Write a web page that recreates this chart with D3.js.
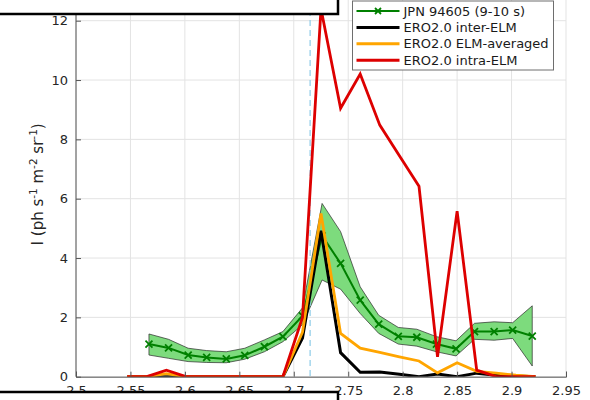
<!DOCTYPE html>
<html>
<head>
<meta charset="utf-8">
<script src="https://cdn.jsdelivr.net/npm/d3@7"></script>
<style>
  body { margin: 0; background: #fff; }
  svg { display: block; font-family: "DejaVu Sans", sans-serif; }
</style>
</head>
<body>
<svg id="chart"></svg>
<script>
// ERO2.0 simulation grid (same for all three model curves)
const xSim = [2.547, 2.565, 2.583, 2.601, 2.618, 2.636, 2.654, 2.672, 2.690, 2.708, 2.725,
              2.743, 2.761, 2.779, 2.797, 2.815, 2.832, 2.850, 2.868, 2.886, 2.904, 2.922];
const interELM = [0, 0, 0, 0, 0, 0, 0, 0, 0, 1.3, 4.92, 0.81, 0.15, 0.16, 0.08, 0, 0.09, 0, 0.12, 0.05, 0.02, 0];
const elmAveraged = [0, 0, 0.1, 0, 0, 0, 0, 0, 0, 1.5, 5.5, 1.46, 0.96, 0.82, 0.67, 0.53, 0.13, 0.47, 0.18, 0.12, 0.05, 0];
const intraELM = [0, 0, 0.22, 0, 0, 0, 0, 0, 0, 2.0, 12.4, 9.05, 10.2, 8.48, 7.45, 6.42, 0.67, 5.58, 0.22, 0, 0, 0];

// JPN 94605 measurement (9-10 s) with its uncertainty band
const xExp = [2.567, 2.585, 2.603, 2.620, 2.638, 2.655, 2.673, 2.690, 2.708, 2.726, 2.743,
              2.761, 2.778, 2.796, 2.813, 2.831, 2.849, 2.866, 2.884, 2.901, 2.919];
const jpn = [1.10, 0.97, 0.73, 0.65, 0.60, 0.72, 1.01, 1.35, 2.05, 4.75, 3.82, 2.58, 1.77, 1.36, 1.33, 1.10, 0.94, 1.52, 1.52, 1.57, 1.37];
const jpnLow = [0.73, 0.62, 0.51, 0.48, 0.47, 0.59, 0.84, 1.18, 1.75, 3.26, 2.95, 2.13, 1.46, 1.10, 1.03, 0.84, 0.70, 1.26, 1.23, 1.29, 0.36];
const jpnHigh = [1.44, 1.26, 0.96, 0.88, 0.84, 0.96, 1.24, 1.52, 2.32, 5.84, 4.89, 3.03, 2.07, 1.66, 1.60, 1.35, 1.21, 1.80, 1.85, 1.82, 2.39];

const xTicks = [2.5, 2.55, 2.6, 2.65, 2.7, 2.75, 2.8, 2.85, 2.9, 2.95];
const yTicks = [0, 2, 4, 6, 8, 10, 12];
const separatrix = [2.715];

const legendLabels = ["JPN 94605 (9-10 s)", "ERO2.0 inter-ELM", "ERO2.0 ELM-averaged", "ERO2.0 intra-ELM"];
const legendColors = ["#008000", "#000000", "#ffa500", "#dd0000"];

class ProfileVis {

    constructor(_config) {
        this.config = {
            parentElement: _config.parentElement,
            containerWidth: _config.containerWidth || 590,
            containerHeight: _config.containerHeight || 400
        };
        this.initVis();
        this.renderVis();
    }

    initVis() {
        let vis = this;

        vis.svg = d3.select(vis.config.parentElement)
            .attr("width", vis.config.containerWidth)
            .attr("height", vis.config.containerHeight);

        vis.xScale = d3.scaleLinear().domain([2.5, 2.95]).range([76, 566]);
        vis.yScale = d3.scaleLinear().domain([0, 12]).range([376.7, 20.7]);

        vis.svg.append("clipPath").attr("id", "plot-clip")
            .append("rect")
            .attr("x", vis.xScale(2.5)).attr("y", -20)
            .attr("width", vis.xScale(2.95) - vis.xScale(2.5))
            .attr("height", vis.yScale(0) + 20);

        vis.gridGroup = vis.svg.append("g").attr("stroke", "#e3e3e3").attr("stroke-width", 1);
        vis.plotGroup = vis.svg.append("g").attr("clip-path", "url(#plot-clip)");
        vis.axisGroup = vis.svg.append("g");
        vis.overlayGroup = vis.svg.append("g");
    }

    renderVis() {
        let vis = this;
        const x = vis.xScale, y = vis.yScale;

        // grid
        vis.gridGroup.selectAll(".vgrid").data(xTicks).join("line")
            .attr("class", "vgrid")
            .attr("x1", d => x(d)).attr("x2", d => x(d))
            .attr("y1", -5).attr("y2", y(0));
        vis.gridGroup.selectAll(".hgrid").data(yTicks).join("line")
            .attr("class", "hgrid")
            .attr("x1", x(2.5)).attr("x2", x(2.95))
            .attr("y1", d => y(d)).attr("y2", d => y(d));

        // uncertainty band
        const band = d3.area()
            .x((d, i) => x(xExp[i]))
            .y0((d, i) => y(jpnLow[i]))
            .y1((d, i) => y(jpnHigh[i]));
        vis.plotGroup.append("path")
            .datum(jpn)
            .attr("d", band)
            .attr("fill", "#7ddb7d")
            .attr("stroke", "#2a2a2a")
            .attr("stroke-width", 0.7);

        // separatrix marker
        vis.plotGroup.selectAll(".sep").data(separatrix).join("line")
            .attr("class", "sep")
            .attr("x1", d => x(d)).attr("x2", d => x(d))
            .attr("y1", -20).attr("y2", y(0))
            .attr("stroke", "#8ccbe8")
            .attr("stroke-width", 1.2)
            .attr("stroke-dasharray", "6,4");

        // measured profile
        const expLine = d3.line().x((d, i) => x(xExp[i])).y(d => y(d));
        vis.plotGroup.append("path")
            .datum(jpn)
            .attr("d", expLine)
            .attr("fill", "none")
            .attr("stroke", legendColors[0])
            .attr("stroke-width", 2);
        vis.plotGroup.selectAll(".xmark").data(jpn).join("path")
            .attr("class", "xmark")
            .attr("transform", (d, i) => `translate(${x(xExp[i])},${y(d)})`)
            .attr("d", "M-3.5,-3.5L3.5,3.5M-3.5,3.5L3.5,-3.5")
            .attr("stroke", legendColors[0])
            .attr("stroke-width", 1.8);

        // model curves
        const simLine = d3.line().x((d, i) => x(xSim[i])).y(d => y(d));
        const series = [interELM, elmAveraged, intraELM];
        vis.plotGroup.selectAll(".sim").data(series).join("path")
            .attr("class", "sim")
            .attr("d", simLine)
            .attr("fill", "none")
            .attr("stroke", (d, i) => legendColors[i + 1])
            .attr("stroke-width", (d, i) => i === 0 ? 3 : 2.8)
            .attr("stroke-linejoin", "miter");

        // axes
        const yAxis = d3.axisLeft(y).tickValues(yTicks).tickSize(-5).tickPadding(8);
        const xAxis = d3.axisBottom(x).tickValues(xTicks).tickSize(-5).tickPadding(9)
            .tickFormat(d3.format(""));

        const gy = vis.axisGroup.append("g")
            .attr("transform", `translate(${x(2.5)},0)`)
            .call(yAxis);
        const gx = vis.axisGroup.append("g")
            .attr("transform", `translate(0,${y(0)})`)
            .call(xAxis);
        [gx, gy].forEach(g => {
            g.select(".domain").attr("stroke", "#555").attr("stroke-width", 1);
            g.selectAll(".tick line").attr("stroke", "#555");
            g.selectAll(".tick text")
                .attr("fill", "#262626")
                .attr("font-size", 13)
                .attr("font-family", "DejaVu Sans, sans-serif");
        });
        gy.select(".domain").attr("d", `M0,${y(0)}V-5`);

        // y label
        const ylab = vis.axisGroup.append("text")
            .attr("transform", `translate(43,${(y(0) + 0) / 2 - 4}) rotate(-90)`)
            .attr("text-anchor", "middle")
            .attr("font-size", 15)
            .attr("fill", "#262626");
        ylab.append("tspan").text("I (ph s");
        ylab.append("tspan").attr("dy", -6).attr("font-size", 10.5).text("-1");
        ylab.append("tspan").attr("dy", 6).text(" m");
        ylab.append("tspan").attr("dy", -6).attr("font-size", 10.5).text("-2");
        ylab.append("tspan").attr("dy", 6).text(" sr");
        ylab.append("tspan").attr("dy", -6).attr("font-size", 10.5).text("-1");
        ylab.append("tspan").attr("dy", 6).text(")");

        // legend
        const legend = vis.overlayGroup.append("g").attr("transform", "translate(352.5,1)");
        legend.append("rect")
            .attr("width", 201).attr("height", 69)
            .attr("fill", "#fff")
            .attr("stroke", "#6e6e6e")
            .attr("stroke-width", 1);
        const rows = legend.selectAll(".row").data(legendLabels).join("g")
            .attr("class", "row")
            .attr("transform", (d, i) => `translate(0,${10 + i * 16.4})`);
        rows.append("line")
            .attr("x1", 4).attr("x2", 47)
            .attr("stroke", (d, i) => legendColors[i])
            .attr("stroke-width", (d, i) => i === 0 ? 2 : 3);
        rows.filter((d, i) => i === 0).append("path")
            .attr("transform", "translate(25.5,0)")
            .attr("d", "M-3,-3L3,3M-3,3L3,-3")
            .attr("stroke", legendColors[0])
            .attr("stroke-width", 1.8);
        rows.append("text")
            .attr("x", 51).attr("dy", "0.35em")
            .attr("font-size", 13)
            .attr("fill", "#1a1a1a")
            .text(d => d);

        // cropped boxes at top and bottom left
        vis.overlayGroup.append("rect")
            .attr("x", -5).attr("y", -20).attr("width", 343).attr("height", 34)
            .attr("fill", "#fff").attr("stroke", "#000").attr("stroke-width", 2.5);
        vis.overlayGroup.append("rect")
            .attr("x", -5).attr("y", 392).attr("width", 343).attr("height", 30)
            .attr("fill", "#fff").attr("stroke", "#000").attr("stroke-width", 2.5);
    }
}

new ProfileVis({ parentElement: "#chart", containerWidth: 590, containerHeight: 400 });
</script>
</body>
</html>
